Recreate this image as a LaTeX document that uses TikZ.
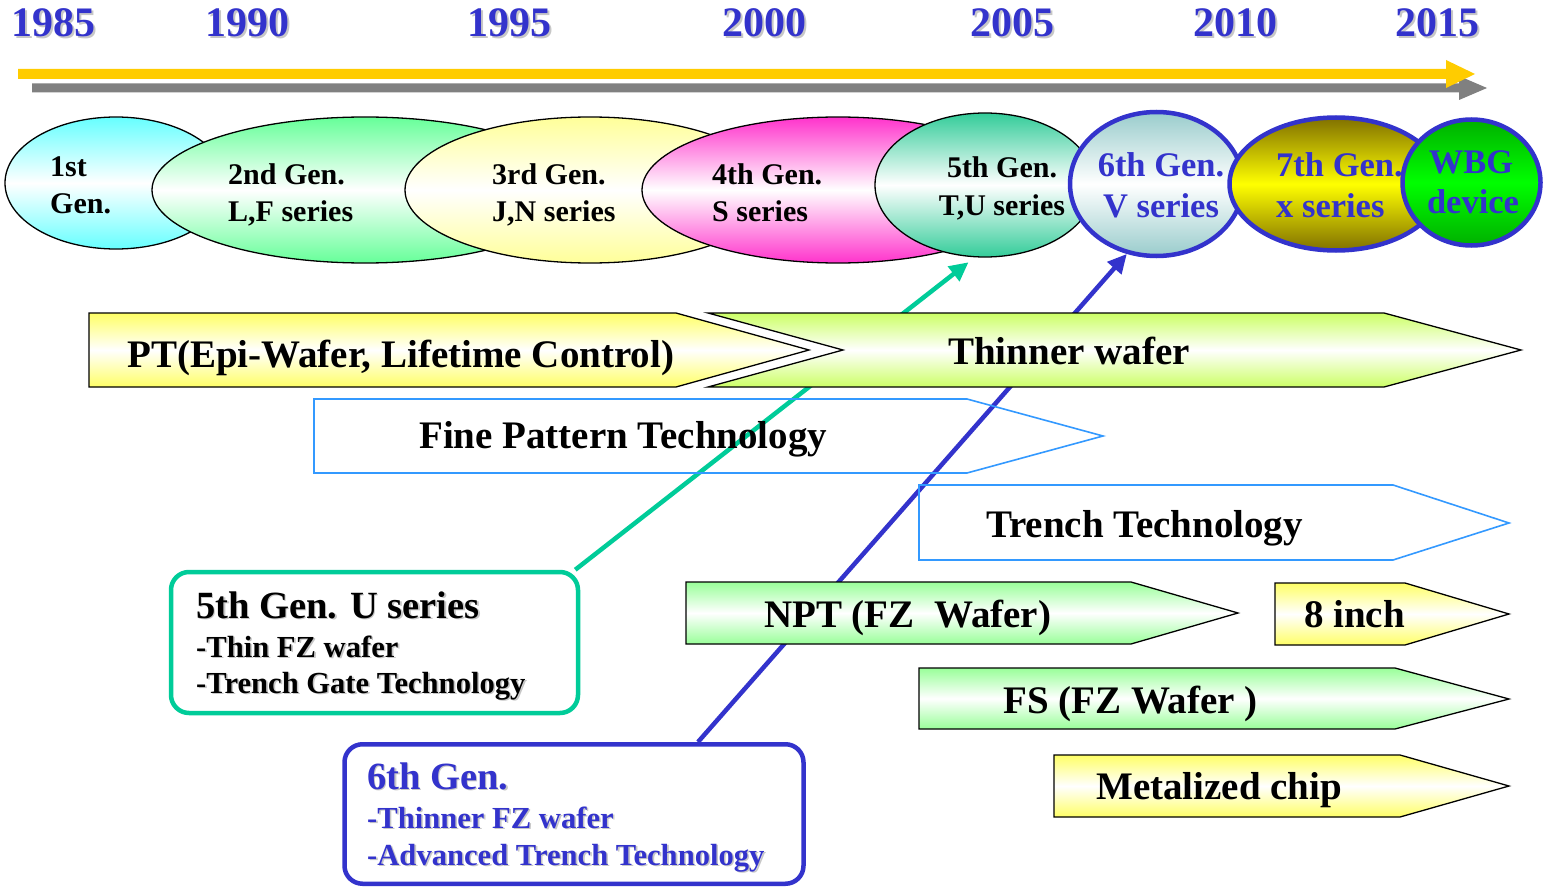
\documentclass[tikz,border=0pt]{standalone}
\usepackage{fontspec}
\setmainfont{Liberation Serif}
\usetikzlibrary{shapes.geometric,arrows.meta,calc}

\definecolor{yrblue}{RGB}{51,51,204}
\definecolor{tlgold}{RGB}{255,204,0}
\definecolor{tlgrey}{RGB}{128,128,128}
\definecolor{gCyan}{RGB}{102,255,255}
\definecolor{gGreen}{RGB}{102,255,153}
\definecolor{gYel}{RGB}{255,255,153}
\definecolor{gMag}{RGB}{255,51,204}
\definecolor{gTeal}{RGB}{51,204,153}
\definecolor{gIce}{RGB}{153,204,204}
\definecolor{gOlive}{RGB}{128,112,0}
\definecolor{gLime}{RGB}{255,255,0}
\definecolor{gWbgD}{RGB}{0,176,0}
\definecolor{gWbgL}{RGB}{0,255,0}
\definecolor{barY}{RGB}{255,255,102}
\definecolor{barLime}{RGB}{204,255,102}
\definecolor{barG}{RGB}{153,255,153}
\definecolor{techblue}{RGB}{51,153,255}
\definecolor{calteal}{RGB}{0,204,153}

% text with a soft grey drop shadow
\newcommand\shtxt[2][1.6pt]{\rlap{\kern#1\raisebox{-#1}{\textcolor{black!22}{#2}}}#2}

\tikzset{
  year/.style={anchor=base west, inner sep=0pt, text=yrblue,
    font=\fontsize{42}{50}\selectfont\bfseries},
  gen/.style={ellipse, draw=black, line width=1.3pt, inner sep=0pt},
  genb/.style={ellipse, draw=yrblue, line width=4.5pt, inner sep=0pt},
  shadeV/.style={top color=#1, bottom color=#1, middle color=white},
  gtxt/.style={inner sep=0pt, font=\fontsize{30}{36}\selectfont\bfseries},
  gtxtb/.style={inner sep=0pt, text=yrblue, font=\fontsize{34.5}{41}\selectfont\bfseries},
  bar/.style={draw=black, line width=1.3pt, line join=miter},
  techbar/.style={draw=techblue, line width=1.6pt, line join=miter},
  bartxt/.style={anchor=base west, inner sep=0pt, font=\fontsize{39}{46}\selectfont\bfseries},
  callout/.style={draw=#1, fill=white, line width=4.5pt, rounded corners=18pt, inner sep=0pt},
  caltitle/.style={anchor=base west, inner sep=0pt, font=\fontsize{38.5}{46}\selectfont\bfseries},
  calline/.style={anchor=base west, inner sep=0pt, font=\fontsize{30.6}{36}\selectfont\bfseries},
  link/.style={draw=#1, line width=4.5pt, -{Triangle[length=19pt,width=18pt]}},
}

\begin{document}
\begin{tikzpicture}[x=1pt,y=-1pt]
\fill[white] (0,0) rectangle (1548,888);
\useasboundingbox (0,0) rectangle (1548,888);

% years
\node[year] (y85) at (11,37)   {\shtxt[2pt]{1985}};
\node[year] (y90) at (205,37)  {\shtxt[2pt]{1990}};
\node[year] (y95) at (467,37)  {\shtxt[2pt]{1995}};
\node[year] (y00) at (722,37)  {\shtxt[2pt]{2000}};
\node[year] (y05) at (970,37)  {\shtxt[2pt]{2005}};
\node[year] (y10) at (1193,37) {\shtxt[2pt]{2010}};
\node[year] (y15) at (1395,37) {\shtxt[2pt]{2015}};

% time axis arrows
\fill[tlgrey] (32,83.5) -- (1459,83.5) -- (1459,76) -- (1487,88) -- (1459,100) -- (1459,92.5) -- (32,92.5) -- cycle;
\fill[tlgold] (18,69) -- (1446,69) -- (1446,60) -- (1475,74) -- (1446,88) -- (1446,79) -- (18,79) -- cycle;

% generations
\node[gen, shadeV=gCyan,  minimum width=222pt, minimum height=132pt] (e1) at (116,183) {};
\node[gen, shadeV=gGreen, minimum width=426pt, minimum height=146pt] (e2) at (365,190) {};
\node[gen, shadeV=gYel,   minimum width=370pt, minimum height=146pt] (e3) at (590,190) {};
\node[gen, shadeV=gMag,   minimum width=392pt, minimum height=146pt] (e4) at (838,190) {};
\node[gen, shadeV=gTeal,  minimum width=220pt, minimum height=144pt] (e5) at (985,185) {};
\node[genb, shadeV=gIce,  minimum width=173pt, minimum height=144pt] (e6) at (1156.5,184) {};
\node[genb, top color=gOlive, bottom color=gOlive, middle color=gLime,
      minimum width=213pt, minimum height=133pt] (e7) at (1336,184) {};
\node[genb, top color=gWbgD, bottom color=gWbgD, middle color=gWbgL,
      minimum width=138pt, minimum height=126pt] (e8) at (1471.5,182.5) {};

\node[gtxt, anchor=base west] (t1a) at (50,177) {1st};
\node[gtxt, anchor=base west] (t1b) at (50,213) {Gen.};
\node[gtxt, anchor=base west] (t2a) at (228,185) {2nd Gen.};
\node[gtxt, anchor=base west] (t2b) at (228,221) {L,F series};
\node[gtxt, anchor=base west] (t3a) at (492,185) {3rd Gen.};
\node[gtxt, anchor=base west] (t3b) at (492,221) {J,N series};
\node[gtxt, anchor=base west] (t4a) at (712,185) {4th Gen.};
\node[gtxt, anchor=base west] (t4b) at (712,221) {S series};
\node[gtxt, anchor=base] (t5a) at (1002,178) {5th Gen.};
\node[gtxt, anchor=base] (t5b) at (1002,215) {T,U series};
\node[gtxtb, anchor=base] (t6a) at (1161,177) {6th Gen.};
\node[gtxtb, anchor=base] (t6b) at (1161,218) {V series};
\node[gtxtb, anchor=base west] (t7a) at (1276,177) {7th Gen.};
\node[gtxtb, anchor=base west] (t7b) at (1276,218) {x series};
\node[gtxtb, anchor=base] (t8a) at (1471,174) {WBG};
\node[gtxtb, anchor=base] (t8b) at (1473,213) {device};

% callout boxes
\node[callout=calteal, minimum width=407pt, minimum height=141pt] (c5) at (374.5,642.5) {};
\node[callout=yrblue,  minimum width=459pt, minimum height=139.5pt] (c6) at (574,814) {};

% links from callouts to generations
\draw[link=calteal, shorten >=8pt] ([xshift=-5pt]c5.north east) -- (e5.262);
\draw[link=yrblue] ([xshift=124pt]c6.north) -- (e6.247);

% technology bars
\draw[bar, shadeV=barY] (89,313) -- (676,313) -- (809,350) -- (676,387) -- (89,387) -- cycle;
\draw[bar, shadeV=barLime] (708,313) -- (1384,313) -- (1521,350) -- (1384,387) -- (708,387) -- (843,350) -- cycle;
\draw[techbar] (314,399) -- (967,399) -- (1103,436) -- (967,473) -- (314,473) -- cycle;
\draw[techbar] (919,485) -- (1393,485) -- (1509,523) -- (1393,560) -- (919,560) -- cycle;
\draw[bar, shadeV=barG] (686,582) -- (1131,582) -- (1238,613) -- (1131,644) -- (686,644) -- cycle;
\draw[bar, shadeV=barY] (1275,583) -- (1405,583) -- (1509,614) -- (1405,645) -- (1275,645) -- cycle;
\draw[bar, shadeV=barG] (919,668) -- (1395,668) -- (1509,699) -- (1395,729) -- (919,729) -- cycle;
\draw[bar, shadeV=barY] (1054,755) -- (1400,755) -- (1509,786) -- (1400,817) -- (1054,817) -- cycle;

\node[bartxt] (bPT)  at (127,367)  {PT(Epi-Wafer, Lifetime Control)};
\node[bartxt] (bTW)  at (948,364)  {Thinner wafer};
\node[bartxt] (bFP)  at (419,448)  {Fine Pattern Technology};
\node[bartxt] (bTT)  at (986,537)  {Trench Technology};
\node[bartxt] (bNPT) at (764,627)  {NPT (FZ\ \ Wafer)};
\node[bartxt] (b8in) at (1304,627) {8 inch};
\node[bartxt] (bFS)  at (1003,713) {FS (FZ Wafer )};
\node[bartxt] (bMC)  at (1096,799) {Metalized chip};

% callout texts
\node[caltitle] (c5a) at (196,618) {\shtxt{5th Gen. U series}};
\node[calline]  (c5b) at (196,657) {\shtxt{-Thin FZ wafer}};
\node[calline]  (c5c) at (196,693) {\shtxt{-Trench Gate Technology}};
\node[caltitle, text=yrblue] (c6a) at (367,789) {\shtxt{6th Gen.}};
\node[calline,  text=yrblue] (c6b) at (367,828) {\shtxt{-Thinner FZ wafer}};
\node[calline,  text=yrblue] (c6c) at (367,865) {\shtxt{-Advanced Trench Technology}};
\end{tikzpicture}
\end{document}
